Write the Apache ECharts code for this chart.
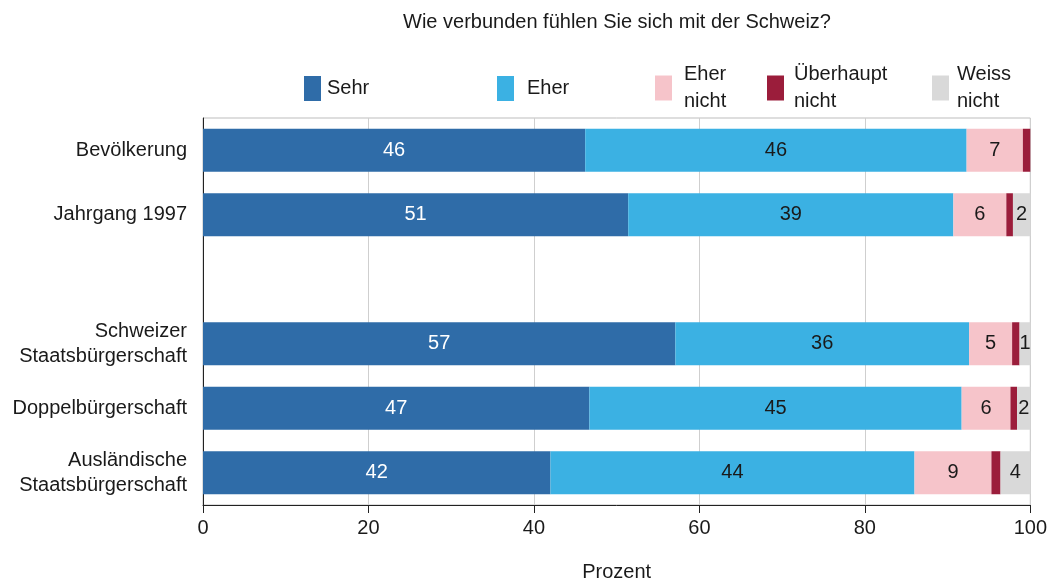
<!DOCTYPE html>
<html>
<head>
<meta charset="utf-8">
<script src="https://cdn.jsdelivr.net/npm/echarts@6/dist/echarts.min.js"></script>
<style>html,body{margin:0;padding:0;background:#fff}#c{width:1050px;height:587px}</style>
</head>
<body>
<div id="c"></div>
<script>
const categories = ['Bevölkerung', 'Jahrgang 1997', '', 'Schweizer\nStaatsbürgerschaft', 'Doppelbürgerschaft', 'Ausländische\nStaatsbürgerschaft'];
const seriesNames = ['Sehr', 'Eher', 'Eher nicht', 'Überhaupt nicht', 'Weiss nicht'];
const legendLabels = ['Sehr', 'Eher', 'Eher\nnicht', 'Überhaupt\nnicht', 'Weiss\nnicht'];
const sehr          = [46.2, 51.4, '-', 57.1, 46.7, 42.0];
const eher          = [46.1, 39.3, '-', 35.5, 45.0, 44.0];
const eherNicht     = [6.8,  6.4,  '-', 5.2,  5.9,  9.3];
const ueberhauptNicht = [0.9, 0.8, '-', 0.9,  0.8,  1.1];
const weissNicht    = [0,    2.1,  '-', 1.3,  1.6,  3.6];
const xTicks = [0, 20, 40, 60, 80, 100];
const title = 'Wie verbunden fühlen Sie sich mit der Schweiz?';
const axisName = 'Prozent';

const colors = ['#2f6ca8', '#3bb1e3', '#f6c4ca', '#9b1d3b', '#d9d9d9'];
const labelColors = ['#ffffff', '#1a1a1a', '#1a1a1a', null, '#1a1a1a'];
const values = [sehr, eher, eherNicht, ueberhauptNicht, weissNicht];
const FONT = "'Liberation Sans', Arial, sans-serif";

const legendLeft = [299, 492, 650, 762, 927];
const legendTop = [70, 70, 56, 56, 56];
const legendPad = [6, 13, 12, 10, 8];

const chart = echarts.init(document.getElementById('c'), null, {renderer: 'canvas'});
chart.setOption({
  animation: false,
  textStyle: {fontFamily: FONT},
  title: {
    text: title, left: 612, top: 7, textAlign: 'center',
    textStyle: {fontSize: 20, fontWeight: 'normal', color: '#1a1a1a', fontFamily: FONT}
  },
  legend: seriesNames.map((n, i) => ({
    data: [n], left: legendLeft[i], top: legendTop[i], icon: 'rect',
    itemWidth: 17, itemHeight: 25, selectedMode: false,
    formatter: () => legendLabels[i],
    textStyle: {fontSize: 20, color: '#1a1a1a', lineHeight: 27, fontFamily: FONT, padding: [0, 0, 0, legendPad[i] - 5]}
  })),
  grid: {left: 203, right: 19, top: 118, bottom: 80, show: true, borderColor: '#bdbdbd', borderWidth: 1},
  xAxis: {
    type: 'value', min: 0, max: 100, interval: 20,
    name: axisName, nameLocation: 'middle', nameGap: 57,
    nameTextStyle: {fontSize: 20, color: '#1a1a1a', fontFamily: FONT},
    axisLine: {show: true, lineStyle: {color: '#222', width: 1}},
    axisTick: {show: true, length: 8, lineStyle: {color: '#222'}},
    axisLabel: {fontSize: 20, color: '#1a1a1a', margin: 13, fontFamily: FONT,
      formatter: v => xTicks.includes(v) ? String(v) : ''},
    splitLine: {show: true, lineStyle: {color: '#cfcfcf', width: 1}}
  },
  yAxis: {
    type: 'category', data: categories, inverse: true,
    axisLine: {show: true, lineStyle: {color: '#222', width: 1}},
    axisTick: {show: false},
    axisLabel: {fontSize: 20, color: '#1a1a1a', margin: 16, lineHeight: 25, align: 'right', fontFamily: FONT},
    splitLine: {show: false}
  },
  series: seriesNames.map((n, i) => ({
    name: n, type: 'bar', stack: 'total', data: values[i],
    barWidth: 43,
    itemStyle: {color: colors[i]},
    label: labelColors[i] ? {
      show: true, position: 'inside', fontSize: 20, color: labelColors[i], fontFamily: FONT,
      formatter: p => (typeof p.value === 'number' && p.value >= 0.5) ? String(Math.round(p.value)) : ''
    } : {show: false}
  }))
});
</script>
</body>
</html>
